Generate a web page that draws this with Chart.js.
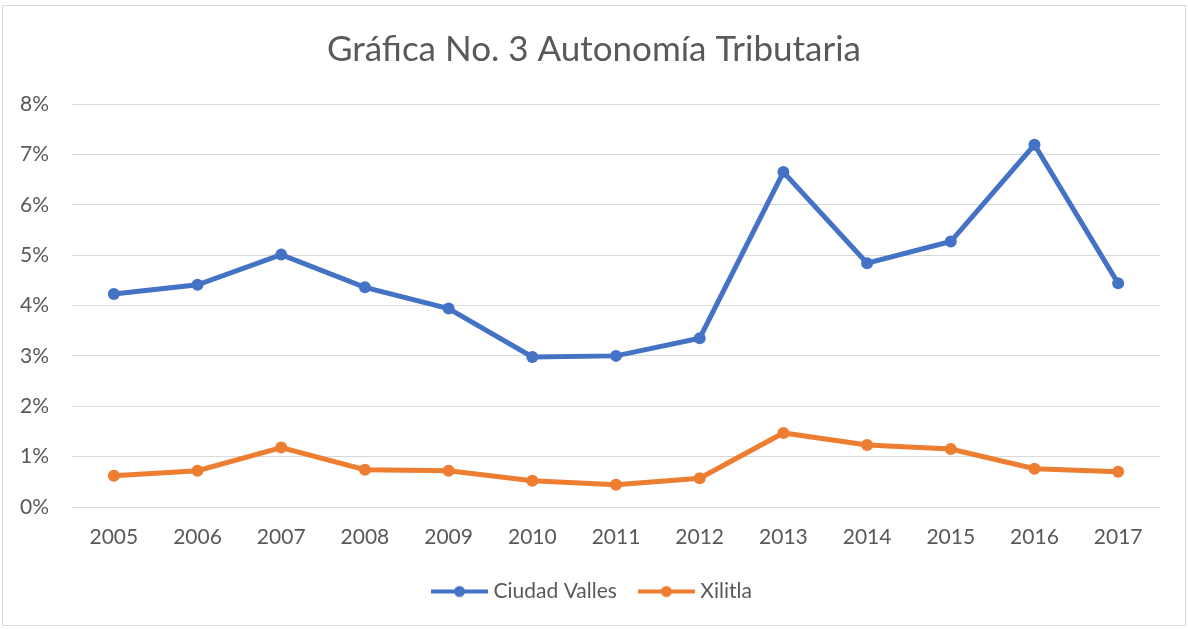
<!DOCTYPE html>
<html>
<head>
<meta charset="utf-8">
<title>Autonomía Tributaria</title>
<script src="https://cdn.jsdelivr.net/npm/chart.js@4/dist/chart.umd.min.js"></script>
<style>
	html, body { margin: 0; padding: 0; background: #fff; }
	#wrap { position: relative; width: 1188px; height: 629px; }
	#frame {
		position: absolute; left: 2px; top: 5px; width: 1182px; height: 619px;
		border: 1px solid #d9d9d9; pointer-events: none;
	}
	#chart-area { position: absolute; left: 0; top: 0; }
</style>
</head>
<body>
<div id="wrap">
	<canvas id="chart-area" width="1188" height="629"></canvas>
	<div id="frame"></div>
</div>
<script>
// Años y porcentaje de autonomía tributaria por municipio
var years = ['2005', '2006', '2007', '2008', '2009', '2010', '2011', '2012', '2013', '2014', '2015', '2016', '2017'];
var ciudadValles = [4.23, 4.41, 5.01, 4.36, 3.94, 2.98, 3.00, 3.35, 6.65, 4.84, 5.27, 7.19, 4.44];
var xilitla = [0.62, 0.72, 1.18, 0.74, 0.72, 0.52, 0.44, 0.57, 1.47, 1.23, 1.15, 0.76, 0.70];
var yTicks = [0, 1, 2, 3, 4, 5, 6, 7, 8];

var blue = '#4472c4';
var orange = '#ed7d31';
var textColor = '#595959';
var fontFamily = 'Lato, "Open Sans", sans-serif';

// Small line-with-marker icon used as the legend symbol
function legendIcon(color) {
	var c = document.createElement('canvas');
	c.width = 57;
	c.height = 14;
	var ctx = c.getContext('2d');
	ctx.strokeStyle = color;
	ctx.lineWidth = 4;
	ctx.beginPath();
	ctx.moveTo(0, 7);
	ctx.lineTo(57, 7);
	ctx.stroke();
	ctx.fillStyle = color;
	ctx.beginPath();
	ctx.arc(28.5, 7, 5.5, 0, Math.PI * 2);
	ctx.fill();
	return c;
}

var config = {
	type: 'line',
	data: {
		labels: years,
		datasets: [{
			label: 'Ciudad Valles',
			data: ciudadValles,
			borderColor: blue,
			backgroundColor: blue,
			borderWidth: 5,
			pointRadius: 6,
			pointBorderWidth: 0,
			pointStyle: 'circle',
			tension: 0
		}, {
			label: 'Xilitla',
			data: xilitla,
			borderColor: orange,
			backgroundColor: orange,
			borderWidth: 5,
			pointRadius: 6,
			pointBorderWidth: 0,
			pointStyle: 'circle',
			tension: 0
		}]
	},
	options: {
		responsive: false,
		animation: false,
		layout: {
			padding: { left: 0, right: 0, top: 0, bottom: 17 }
		},
		plugins: {
			title: {
				display: true,
				text: 'Gráfica No. 3 Autonomía Tributaria',
				color: textColor,
				font: { family: fontFamily, size: 35, weight: 'normal' },
				padding: { top: 29, bottom: 33 }
			},
			legend: {
				position: 'bottom',
				labels: {
					color: textColor,
					font: { family: fontFamily, size: 21 },
					usePointStyle: true,
					// icon is 57px wide; a narrower box lets the text sit closer to it
					pointStyleWidth: 47,
					padding: 26,
					generateLabels: function (chart) {
						return chart.data.datasets.map(function (ds, i) {
							return {
								text: ds.label,
								pointStyle: legendIcon(ds.borderColor),
								fillStyle: ds.borderColor,
								strokeStyle: ds.borderColor,
								fontColor: textColor,
								lineWidth: 0,
								hidden: false,
								datasetIndex: i
							};
						});
					}
				}
			},
			tooltip: { enabled: false }
		},
		scales: {
			x: {
				offset: true,
				grid: { display: false, drawTicks: false },
				border: { display: false },
				ticks: {
					color: textColor,
					font: { family: fontFamily, size: 21 },
					padding: 18,
					maxRotation: 0
				},
				afterFit: function (scale) { scale.height = 48; }
			},
			y: {
				min: 0,
				max: 8,
				grid: { color: '#d9d9d9', lineWidth: 1, drawTicks: false },
				border: { display: false },
				afterBuildTicks: function (scale) {
					scale.ticks = yTicks.map(function (v) { return { value: v }; });
				},
				ticks: {
					color: textColor,
					font: { family: fontFamily, size: 21 },
					padding: 23,
					callback: function (v) { return v + '%'; }
				},
				afterFit: function (scale) { scale.width = 72; }
			},
			// empty right-hand axis, only reserves the margin after the plot
			yRight: {
				position: 'right',
				grid: { display: false, drawTicks: false },
				border: { display: false },
				ticks: { display: false },
				afterFit: function (scale) { scale.width = 28; }
			}
		}
	}
};

var ctx = document.getElementById('chart-area').getContext('2d');
var myLineChart = new Chart(ctx, config);
</script>
</body>
</html>
